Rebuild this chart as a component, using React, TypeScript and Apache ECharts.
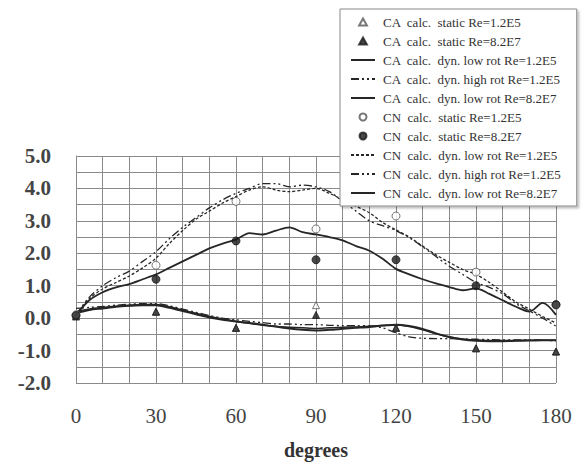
import React, { useEffect, useRef } from 'react';
import * as echarts from 'echarts';

const angles = [0, 5, 10, 15, 20, 25, 30, 35, 40, 45, 50, 55, 60, 65, 70, 75, 80, 85, 90, 95, 100, 105, 110, 115, 120, 125, 130, 135, 140, 145, 150, 155, 160, 165, 170, 175, 180];
const staticAngles = [0, 30, 60, 90, 120, 150, 180];
const xTickLabels = [0, 30, 60, 90, 120, 150, 180];
const yTickLabels = [-2, -1, 0, 1, 2, 3, 4, 5];

const caStaticLow = [0.1, 0.2, -0.3, 0.4, -0.3, -0.93, -1.03];
const caStaticHigh = [0.05, 0.2, -0.3, 0.1, -0.3, -0.93, -1.03];
const cnStaticLow = [0.1, 1.63, 3.6, 2.75, 3.15, 1.42, 0.4];
const cnStaticHigh = [0.08, 1.2, 2.38, 1.8, 1.8, 1.0, 0.42];

const caDynLowRot12 = [0.2, 0.28, 0.33, 0.37, 0.4, 0.42, 0.42, 0.35, 0.25, 0.15, 0.05, -0.02, -0.1, -0.16, -0.22, -0.26, -0.28, -0.3, -0.32, -0.3, -0.28, -0.27, -0.25, -0.23, -0.2, -0.26, -0.36, -0.48, -0.58, -0.64, -0.67, -0.69, -0.69, -0.69, -0.68, -0.68, -0.68];
const caDynHighRot12 = [0.3, 0.33, 0.36, 0.4, 0.43, 0.45, 0.45, 0.38, 0.28, 0.18, 0.08, 0.0, -0.05, -0.1, -0.14, -0.18, -0.18, -0.2, -0.2, -0.22, -0.23, -0.23, -0.24, -0.3, -0.45, -0.58, -0.62, -0.63, -0.63, -0.64, -0.65, -0.66, -0.67, -0.67, -0.67, -0.68, -0.7];
const caDynLowRot82 = [0.15, 0.25, 0.3, 0.35, 0.38, 0.4, 0.4, 0.32, 0.22, 0.12, 0.02, -0.05, -0.1, -0.15, -0.2, -0.26, -0.32, -0.36, -0.38, -0.36, -0.33, -0.3, -0.27, -0.23, -0.2, -0.24, -0.33, -0.47, -0.58, -0.66, -0.7, -0.71, -0.71, -0.7, -0.69, -0.68, -0.68];
const cnDynLowRot12 = [0.1, 0.6, 0.9, 1.1, 1.3, 1.55, 1.85, 2.3, 2.7, 3.05, 3.3, 3.55, 3.75, 3.95, 4.05, 3.95, 3.9, 3.95, 4.0, 3.85, 3.65, 3.45, 3.25, 2.95, 2.72, 2.5, 2.22, 1.95, 1.72, 1.5, 1.35, 1.1, 0.8, 0.5, 0.28, 0.05, -0.15];
const cnDynHighRot12 = [0.1, 0.65, 1.0, 1.25, 1.45, 1.75, 2.05, 2.45, 2.8, 3.1, 3.4, 3.65, 3.85, 4.0, 4.15, 4.15, 4.05, 4.1, 4.05, 3.9, 3.6, 3.3, 3.0, 2.85, 2.7, 2.48, 2.2, 1.9, 1.6, 1.35, 1.1, 0.95, 0.75, 0.45, 0.22, 0.0, -0.25];
const cnDynLowRot82 = [0.1, 0.55, 0.8, 0.95, 1.05, 1.2, 1.35, 1.55, 1.75, 1.95, 2.15, 2.3, 2.42, 2.62, 2.58, 2.7, 2.8, 2.65, 2.58, 2.5, 2.4, 2.22, 2.08, 1.83, 1.52, 1.35, 1.2, 1.07, 0.96, 0.86, 0.92, 0.75, 0.55, 0.35, 0.2, 0.47, 0.1];

const seriesNames = [
  'CA  calc.  static Re=1.2E5',
  'CA  calc.  static Re=8.2E7',
  'CA  calc.  dyn. low rot Re=1.2E5',
  'CA  calc.  dyn. high rot Re=1.2E5',
  'CA  calc.  dyn. low rot Re=8.2E7',
  'CN  calc.  static Re=1.2E5',
  'CN  calc.  static Re=8.2E7',
  'CN  calc.  dyn. low rot Re=1.2E5',
  'CN  calc.  dyn. high rot Re=1.2E5',
  'CN  calc.  dyn. low rot Re=8.2E7',
];
const lineSeriesIdx = [2, 3, 4, 7, 8, 9];
const triangleSeriesIdx = [0, 1];

const FONT = '"Liberation Serif", "DejaVu Serif", serif';
const INK = '#262626';
const DOTTED = [3, 2];
const DASHDOTDOT = [8, 3, 2, 3, 2, 3];
const TRIANGLE_ICON = 'path://M5,0 L10,9 L0,9 Z';

function pairs(xs: number[], ys: number[]) {
  return xs.map((x, i) => [x, ys[i]]);
}

function lineSeries(name: string, ys: number[], type: any, width: number) {
  return {
    name,
    type: 'line',
    data: pairs(angles, ys),
    symbol: 'none',
    smooth: 0.3,
    lineStyle: { color: INK, width, type },
    itemStyle: { color: INK },
    z: 3,
  };
}

function scatterSeries(name: string, ys: number[], symbol: string, filled: boolean, size: number) {
  return {
    name,
    type: 'scatter',
    data: pairs(staticAngles, ys),
    symbol,
    symbolSize: size,
    itemStyle: {
      color: filled ? '#1a1a1a' : '#ffffff',
      borderColor: filled ? '#1a1a1a' : '#555555',
      borderWidth: 1,
    },
    z: 5,
  };
}

export default function App() {
  const ref = useRef<HTMLDivElement>(null);
  useEffect(() => {
    if (!ref.current) return;
    const chart = echarts.init(ref.current, undefined, { renderer: 'svg' });
    const legendData = seriesNames.map((name, i) => {
      if (lineSeriesIdx.includes(i)) {
        return { name, itemStyle: { color: 'rgba(0,0,0,0)', borderColor: 'rgba(0,0,0,0)', borderWidth: 0 } };
      }
      if (triangleSeriesIdx.includes(i)) {
        return { name, icon: TRIANGLE_ICON };
      }
      return { name, icon: 'circle' };
    });
    chart.setOption({
      animation: false,
      backgroundColor: '#ffffff',
      grid: { left: 76, right: 28, top: 156, bottom: 81, containLabel: false },
      legend: {
        orient: 'vertical',
        left: 340,
        top: 9,
        padding: [6, 16, 6, 10],
        itemGap: 5,
        itemWidth: 24,
        itemHeight: 7,
        symbolKeepAspect: true,
        backgroundColor: '#ffffff',
        borderColor: '#888888',
        borderWidth: 1,
        shadowColor: 'rgba(0,0,0,0.25)',
        shadowOffsetX: 2,
        shadowOffsetY: 2,
        shadowBlur: 2,
        data: legendData,
        textStyle: {
          fontFamily: FONT,
          fontSize: 13,
          color: '#333333',
          lineHeight: 14,
          padding: [0, 0, 0, 3],
        },
      },
      xAxis: {
        type: 'value',
        min: 0,
        max: 180,
        interval: 10,
        name: 'degrees',
        nameLocation: 'middle',
        nameGap: 57,
        nameTextStyle: { fontFamily: FONT, fontSize: 20, fontWeight: 'bold', color: '#333333' },
        axisLine: { show: true, lineStyle: { color: '#8a8a8a', width: 1 } },
        axisTick: { show: false },
        axisLabel: {
          margin: 22,
          fontFamily: FONT,
          fontSize: 21,
          color: '#444444',
          formatter: (v: number) => (xTickLabels.includes(v) ? String(v) : ''),
        },
        splitLine: { show: true, lineStyle: { color: '#8a8a8a', width: 1 } },
      },
      yAxis: {
        type: 'value',
        min: -2,
        max: 5,
        interval: 0.5,
        axisLine: { show: true, lineStyle: { color: '#8a8a8a', width: 1 } },
        axisTick: { show: false },
        axisLabel: {
          margin: 25,
          fontFamily: FONT,
          fontSize: 21,
          fontWeight: 'bold',
          color: '#444444',
          formatter: (v: number) => (yTickLabels.includes(v) ? v.toFixed(1) : ''),
        },
        splitLine: { show: true, lineStyle: { color: '#8a8a8a', width: 1 } },
      },
      series: [
        scatterSeries(seriesNames[0], caStaticLow, 'triangle', false, 7),
        scatterSeries(seriesNames[1], caStaticHigh, 'triangle', true, 7),
        lineSeries(seriesNames[2], caDynLowRot12, 'solid', 1.5),
        lineSeries(seriesNames[3], caDynHighRot12, DASHDOTDOT, 1.3),
        lineSeries(seriesNames[4], caDynLowRot82, 'solid', 2),
        scatterSeries(seriesNames[5], cnStaticLow, 'circle', false, 8),
        scatterSeries(seriesNames[6], cnStaticHigh, 'circle', true, 8),
        lineSeries(seriesNames[7], cnDynLowRot12, DOTTED, 1.3),
        lineSeries(seriesNames[8], cnDynHighRot12, DASHDOTDOT, 1.3),
        lineSeries(seriesNames[9], cnDynLowRot82, 'solid', 1.8),
      ],
    });
    return () => chart.dispose();
  }, []);
  return (
    <div
      ref={ref}
      style={{ position: 'absolute', left: 0, top: 0, width: 584, height: 464, background: '#fff' }}
    />
  );
}
